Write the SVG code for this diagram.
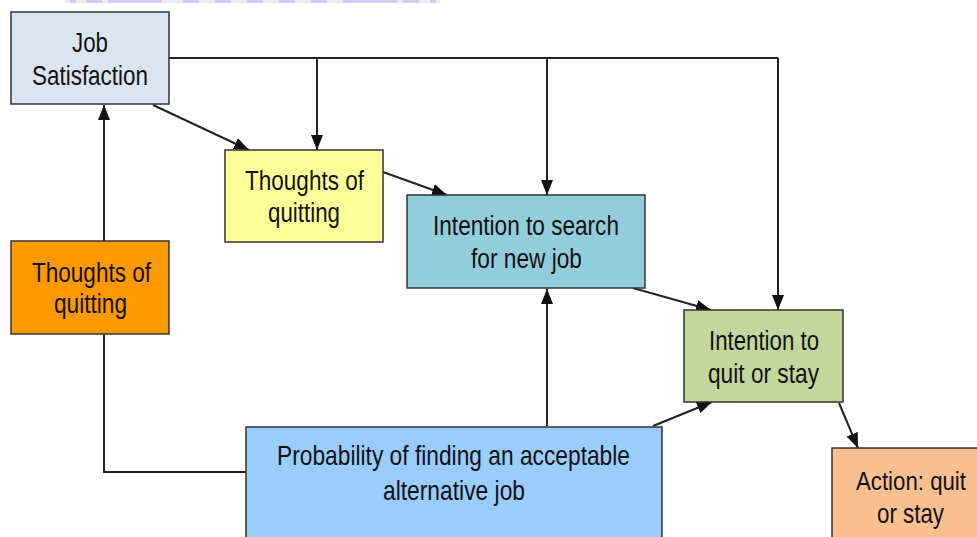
<svg xmlns="http://www.w3.org/2000/svg" width="977" height="537" viewBox="0 0 977 537">
<style>
.box{stroke:#333;stroke-width:1.5}
.t{font-family:"Liberation Sans",Arial,sans-serif;font-size:27.5px;fill:#111;text-anchor:middle}
.c{fill:none;stroke:#222;stroke-width:2}
.a{fill:none;stroke:#222;stroke-width:2;marker-end:url(#ah)}
</style>
<defs>
<marker id="ah" viewBox="0 0 15 12" refX="15" refY="6" markerWidth="15" markerHeight="12" markerUnits="userSpaceOnUse" orient="auto">
<path d="M0,0 L15,6 L0,12 Z" fill="#111"/>
</marker>
</defs>
<rect width="977" height="537" fill="#ffffff"/>
<g id="banner" fill="#cfcdf0">
<rect x="65" y="0" width="375" height="3" fill="#eceafa"/>
<rect x="70" y="0" width="6" height="3"/><rect x="86" y="0" width="16" height="3"/>
<rect x="108" y="0" width="54" height="3"/><rect x="183" y="0" width="16" height="3"/>
<rect x="215" y="0" width="16" height="3"/><rect x="247" y="0" width="16" height="3"/>
<rect x="279" y="0" width="16" height="3"/><rect x="311" y="0" width="16" height="3"/>
<rect x="343" y="0" width="54" height="3"/><rect x="403" y="0" width="16" height="3"/>
<rect x="430" y="0" width="6" height="3"/>
</g>
<g id="connectors">
<polyline class="c" points="169,58 778,58"/>
<line class="a" x1="317" y1="58" x2="317" y2="150"/>
<line class="a" x1="547" y1="58" x2="547" y2="195"/>
<line class="a" x1="778" y1="58" x2="778" y2="310"/>
<line class="a" x1="153" y1="105" x2="249" y2="150"/>
<line class="a" x1="383" y1="172" x2="447" y2="195"/>
<line class="a" x1="633" y1="288" x2="711" y2="310"/>
<line class="a" x1="104" y1="241" x2="104" y2="105"/>
<polyline class="c" points="104,334 104,472 246,472" stroke-width="1.6"/>
<line class="a" x1="547" y1="426" x2="547" y2="289"/>
<line class="a" x1="653" y1="426" x2="712" y2="402"/>
<line class="a" x1="839" y1="403" x2="858" y2="448"/>
</g>
<g id="job-satisfaction">
<rect class="box" x="11" y="12" width="158" height="92" fill="#dbe5f1"/>
<text class="t" x="90" y="52" textLength="36" lengthAdjust="spacingAndGlyphs">Job</text>
<text class="t" x="90" y="85" textLength="116" lengthAdjust="spacingAndGlyphs">Satisfaction</text>
</g>
<g id="thoughts-yellow">
<rect class="box" x="225" y="150" width="158" height="92" fill="#ffff99"/>
<text class="t" x="304.5" y="190" textLength="119" lengthAdjust="spacingAndGlyphs">Thoughts of</text>
<text class="t" x="304" y="222" textLength="72" lengthAdjust="spacingAndGlyphs">quitting</text>
</g>
<g id="intention-search">
<rect class="box" x="407" y="195" width="238" height="93" fill="#92cddc"/>
<text class="t" x="526" y="235" textLength="186" lengthAdjust="spacingAndGlyphs">Intention to search</text>
<text class="t" x="526.5" y="268" textLength="111" lengthAdjust="spacingAndGlyphs">for new job</text>
</g>
<g id="thoughts-orange">
<rect class="box" x="11" y="241" width="158" height="93" fill="#ff9900"/>
<text class="t" x="91.5" y="282" textLength="119" lengthAdjust="spacingAndGlyphs">Thoughts of</text>
<text class="t" x="90.5" y="313" textLength="73" lengthAdjust="spacingAndGlyphs">quitting</text>
</g>
<g id="intention-quit">
<rect class="box" x="684" y="310" width="159" height="92" fill="#c3d69b"/>
<text class="t" x="764" y="350" textLength="110" lengthAdjust="spacingAndGlyphs">Intention to</text>
<text class="t" x="763.5" y="383" textLength="111" lengthAdjust="spacingAndGlyphs">quit or stay</text>
</g>
<g id="probability">
<rect class="box" x="246" y="427" width="416" height="115" fill="#99ccff"/>
<text class="t" x="453.5" y="465" textLength="353" lengthAdjust="spacingAndGlyphs">Probability of finding an acceptable</text>
<text class="t" x="454" y="500" textLength="142" lengthAdjust="spacingAndGlyphs">alternative job</text>
</g>
<g id="action">
<rect class="box" x="832" y="448" width="150" height="95" fill="#fac090"/>
<text class="t" x="911" y="490" textLength="110" lengthAdjust="spacingAndGlyphs" style="font-size:26px">Action: quit</text>
<text class="t" x="910.5" y="523" textLength="67" lengthAdjust="spacingAndGlyphs">or stay</text>
</g>
</svg>
